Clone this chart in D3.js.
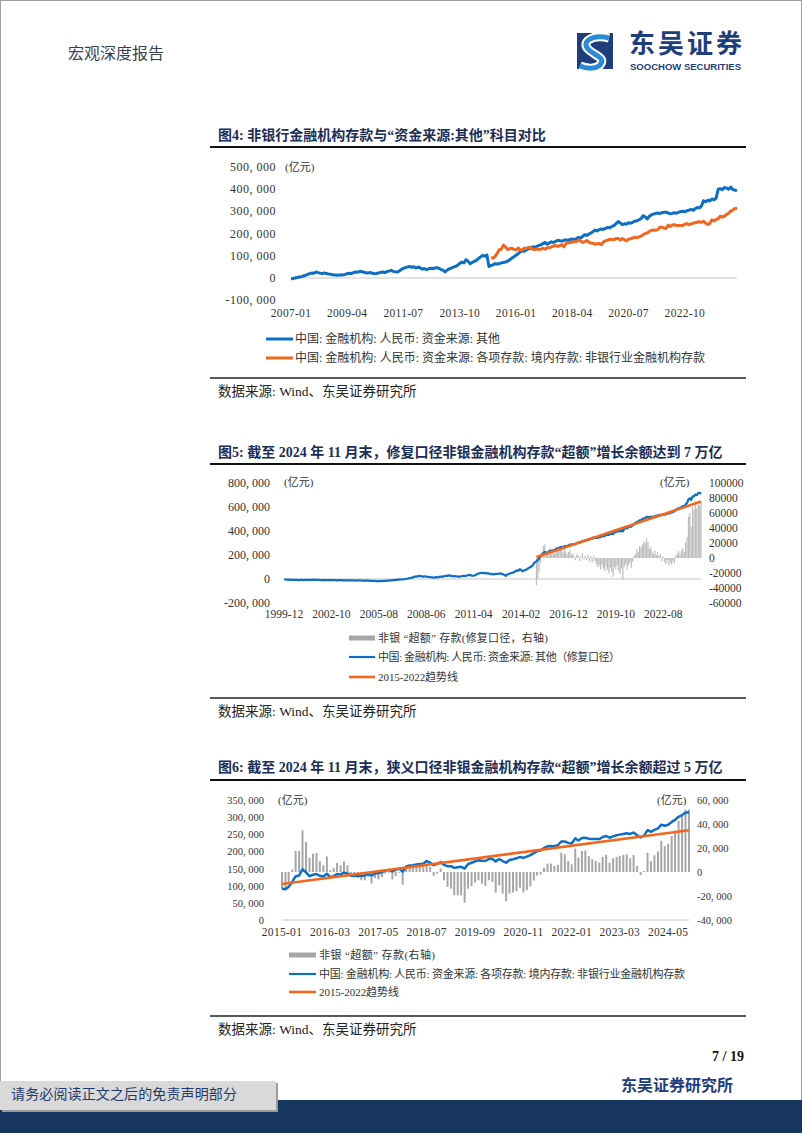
<!DOCTYPE html>
<html><head><meta charset="utf-8">
<script src="https://cdn.jsdelivr.net/npm/d3@7"></script>
<style>html,body{margin:0;padding:0;background:#fff;}svg{display:block;}</style>
</head><body>
<svg id="page" width="802" height="1133"></svg>
<script>
// ---------------- DATA ----------------
// Chart 1 (图4): 中国:金融机构:人民币:资金来源:其他, monthly from 2007-01 (亿元)
const c1Start = "2007-01";
const c1Other = [
-3000,-2000,0,2000,4500,6000,9000,12000,16000,19500,22000,21000,
27000,24000,22000,19500,23000,20000,18000,17000,15000,14000,12000,13000,
15000,14000,16000,19500,21000,20000,24000,27000,26000,30000,28000,26000,
24000,22000,25000,21000,20000,19500,23000,25000,27000,24000,29000,31000,
34500,30000,28000,27000,31000,38000,44000,47000,50000,52000,48000,51000,
45000,49500,46000,40000,43000,37500,41000,44000,42000,45000,46500,44000,
38000,35000,27000,36000,41000,45000,49500,52000,58000,65000,72000,68000,
82500,75000,64500,70000,75000,79500,88000,95000,102000,98000,104000,52000,
56000,60000,64500,63000,65000,68000,70000,72000,76000,82000,90000,95000,
103000,109000,118000,123000,120000,127000,132000,135000,141000,138000,143000,147000,
150000,156000,160000,152000,158000,163000,160000,165000,170000,168000,166000,170000,
172000,169000,174000,176000,173000,178000,183000,180000,188000,195000,192000,198000,
203000,210000,216000,212000,218000,221000,219000,224000,228000,226000,232000,236000,
245000,254000,248000,240000,244000,243000,249000,247000,251000,256000,258000,262000,
268000,281000,275000,266000,278000,285000,288000,291000,293000,290000,294000,296000,
296000,293000,289000,291000,294000,292000,296000,299000,301000,298000,303000,306000,
309000,305000,312000,318000,315000,325000,348000,343000,350000,347000,356000,352000,
360000,400000,402000,398000,408000,405000,400000,410000,398000,396000,392000
];
// 各项存款:境内存款:非银行业金融机构存款, monthly from 2015-01 (亿元) — chart 1 orange & chart 3 blue
const nbfiStart = "2015-01";
const nbfiDeposits = [
91000,90000,97000,111000,127000,130000,148000,139000,128000,132000,134000,129000,
127000,135000,125000,128000,134000,133000,138000,136000,129000,128000,130000,128000,
130000,134000,130000,136000,136000,140000,144000,146000,142000,146000,150000,141000,
156000,159000,160000,162000,163000,164000,172000,167000,160000,164000,169000,161000,
157000,157000,152000,154000,155000,150000,163000,167000,171000,174000,173000,172000,
178000,178000,171000,178000,172000,167000,175000,177000,180000,184000,181000,185000,
189000,195000,201000,203000,210000,215000,216000,215000,218000,229000,229000,225000,
223000,238000,232000,239000,240000,237000,236000,236000,236000,242000,245000,240000,
244000,247000,249000,251000,253000,251000,255000,247000,241000,246000,262000,257000,
263000,267000,278000,275000,278000,286000,292000,301000,306000,313000,314000
];
// Chart 2 (图5): 资金来源:其他(修复口径), monthly from 1999-12 (亿元)
const c2Start = "1999-12";
const c2OtherFixed = [
-2000,
-4000,-5000,-6000,-7000,-6000,-7000,-8000,-7000,-8000,-9000,-8000,-7000,
-8000,-9000,-8000,-7000,-8000,-9000,-8000,-7000,-6000,-7000,-8000,-7000,
-8000,-9000,-10000,-9000,-8000,-9000,-10000,-9000,-8000,-9000,-10000,-9000,
-10000,-11000,-10000,-9000,-10000,-11000,-12000,-11000,-10000,-11000,-12000,-11000,
-12000,-11000,-12000,-13000,-12000,-11000,-12000,-13000,-14000,-13000,-12000,-13000,
-14000,-15000,-16000,-15000,-16000,-17000,-18000,-17000,-16000,-17000,-16000,-15000,
-16000,-14000,-13000,-12000,-11000,-10000,-9000,-8000,-7000,-5000,-3000,-4000,
-3000,-2000,0,2000,4500,6000,9000,12000,16000,19500,22000,21000,
27000,24000,22000,19500,23000,20000,18000,17000,15000,14000,12000,13000,
15000,14000,16000,19500,21000,20000,24000,27000,26000,30000,28000,26000,
24000,22000,25000,21000,20000,19500,23000,25000,27000,24000,29000,31000,
34500,30000,28000,27000,31000,38000,44000,47000,50000,52000,48000,51000,
45000,49500,46000,40000,43000,37500,41000,44000,42000,45000,46500,44000,
38000,35000,27000,36000,41000,45000,49500,52000,58000,65000,72000,68000,
82500,75000,64500,70000,75000,79500,88000,95000,102000,110000,127000,140000,
147000,159000,173000,189000,204000,219000,225000,219000,220000,229000,235000,234000,
240000,240000,250000,256000,255000,265000,265000,264000,273000,274000,274000,281000,
287000,285000,291000,291000,290000,302000,303000,300000,310000,318000,314000,323000,
321000,332000,327000,338000,334000,347000,343000,343000,343000,349000,348000,358000,
357000,358000,368000,367000,367000,377000,376000,373000,390000,391000,400000,397000,
397000,408000,397000,418000,425000,422000,431000,439000,436000,448000,460000,467000,
477000,477000,489000,490000,498000,506000,508000,518000,517000,512000,519000,517000,
518000,526000,523000,531000,530000,536000,531000,541000,537000,539000,548000,545000,
553000,553000,562000,563000,577000,584000,591000,590000,600000,607000,606000,622000,
633000,664000,673000,659000,689000,689000,705000,699000,716000,719000,710000
];
// 非银"超额"存款(修复口径, 右轴), monthly from 2015-01
const c2ExcessStart = "2015-01";
const c2Excess = [
-36000,-28000,-18000,-6000,5000,16000,18000,9000,6000,11000,13000,8000,
10000,6000,12000,14000,9000,15000,11000,7000,12000,9000,5000,8000,
10000,4000,6000,2000,-3000,5000,3000,-4000,2000,6000,-2000,3000,
-3000,4000,-5000,2000,-6000,3000,-4000,-8000,-12000,-10000,-15000,-9000,
-14000,-17000,-11000,-16000,-20000,-13000,-18000,-25000,-12000,-15000,-10000,-17000,
-21000,-14000,-29000,-12000,-8000,-15000,-10000,-6000,-13000,-5000,3000,6000,
12000,8000,16000,14000,18000,22000,20000,26000,21000,12000,15000,9000,
6000,10000,4000,8000,3000,5000,-4000,2000,-6000,-8000,-3000,-10000,
-6000,-9000,-4000,-7000,3000,6000,9000,4000,10000,13000,8000,20000,
28000,55000,60000,42000,68000,64000,76000,66000,72000,70000,74000
];
const c2TrendDates = ["2015-01", "2024-11"];
const c2TrendValues = [183000, 645000];
// Chart 3 (图6): 非银"超额"存款(右轴), monthly from 2015-01
const c3ExcessStart = "2015-01";
const c3Excess = [
-14000,-14000,-10000,2000,17500,17500,34700,25000,11700,15300,15800,8900,
5600,13000,1400,3300,7500,5600,8900,5600,-2800,-4200,-5000,-6900,
-6900,-4200,-9700,-5000,-6100,-4200,-1400,-600,-6100,-3300,-600,-10600,
2800,4200,4200,4700,4200,4700,5600,4200,-3300,-1400,3000,-6900,
-12500,-13900,-19400,-19400,-19400,-25500,-13900,-11700,-8900,-6900,-9700,-11700,
-6900,-8300,-17200,-11100,-18000,-24400,-18000,-17000,-16000,-13000,-17000,-15000,
-12000,-7000,-3000,-2000,3600,7000,7000,5000,6000,16000,14700,9200,
6400,19400,12000,17500,18000,13300,10600,9200,7800,12500,14200,7800,
11400,12500,13300,14200,14700,11400,14200,5000,-2500,800,16000,9000,
14000,17000,26000,21500,23500,30000,34700,42500,46600,52000,52000
];
const c3TrendDates = ["2015-01", "2024-11"];
const c3TrendValues = [105000, 262000];

// tick labels
const c1YTicks = [-100000, 0, 100000, 200000, 300000, 400000, 500000];
const c1XTicks = ["2007-01","2009-04","2011-07","2013-10","2016-01","2018-04","2020-07","2022-10"];
const c2YTicksL = [-200000, 0, 200000, 400000, 600000, 800000];
const c2YTicksR = [-60000, -40000, -20000, 0, 20000, 40000, 60000, 80000, 100000];
const c2XTicks = ["1999-12","2002-10","2005-08","2008-06","2011-04","2014-02","2016-12","2019-10","2022-08"];
const c3YTicksL = [0, 50000, 100000, 150000, 200000, 250000, 300000, 350000];
const c3YTicksR = [-40000, -20000, 0, 20000, 40000, 60000];
const c3XTicks = ["2015-01","2016-03","2017-05","2018-07","2019-09","2020-11","2022-01","2023-03","2024-05"];

// texts
const c1Title = "图4: 非银行金融机构存款与“资金来源:其他”科目对比";
const c1Legend = ["中国: 金融机构: 人民币: 资金来源: 其他", "中国: 金融机构: 人民币: 资金来源: 各项存款: 境内存款: 非银行业金融机构存款"];
const c2Title = "图5: 截至 2024 年 11 月末，修复口径非银金融机构存款“超额”增长余额达到 7 万亿";
const c2Legend = ["非银 “超额” 存款(修复口径，右轴)", "中国: 金融机构: 人民币: 资金来源: 其他（修复口径）", "2015-2022趋势线"];
const c3Title = "图6: 截至 2024 年 11 月末，狭义口径非银金融机构存款“超额”增长余额超过 5 万亿";
const c3Legend = ["非银 “超额” 存款(右轴)", "中国: 金融机构: 人民币: 资金来源: 各项存款: 境内存款: 非银行业金融机构存款", "2015-2022趋势线"];
const sourceText = "数据来源: Wind、东吴证券研究所";

// ---------------- DRAWING ----------------
const SERIF = "'Liberation Serif','Noto Sans CJK SC',serif";
const CJK = "'Noto Sans CJK SC',sans-serif";
const BLUE = "#0c6fc4", ORANGE = "#f2671f", NAVY = "#1e3d7b", TITLE = "#1a2d57", LABEL = "#333";
const parseMonth = d3.utcParse("%Y-%m");
const loc = d3.formatLocale({decimal: ".", thousands: ",", grouping: [3], currency: ["", ""], minus: "-"});
const fmtComma = v => loc.format(",")(v).replace(/,/g, ", ");
const fmtPlain = v => loc.format("d")(v);
const monthly = (start, vals) => vals.map((v, i) => ({date: d3.utcMonth.offset(parseMonth(start), i), v}));

const page = d3.select("#page");
page.append("rect").attr("x", 0.5).attr("y", 0.5).attr("width", 801).attr("height", 1132)
  .attr("fill", "#fff").attr("stroke", "#a0a0a0");

function txt(g, x, y, s, o = {}) {
  const t = g.append("text").attr("x", x).attr("y", y).text(s)
    .attr("font-family", o.family || SERIF).attr("font-size", o.size || 12)
    .attr("fill", o.fill || LABEL);
  if (o.anchor) t.attr("text-anchor", o.anchor);
  if (o.weight) t.attr("font-weight", o.weight);
  if (o.ls) t.attr("letter-spacing", o.ls);
  if (o.len) t.attr("textLength", o.len).attr("lengthAdjust", "spacing");
  return t;
}
function hline(g, x1, x2, y, w, c) {
  g.append("line").attr("x1", x1).attr("x2", x2).attr("y1", y).attr("y2", y)
    .attr("stroke", c).attr("stroke-width", w);
}
function frame(g, titleY, lineY, srcLineY, srcY, title) {
  txt(g, 218, titleY, title, {size: 14, weight: "bold", fill: TITLE});
  hline(g, 210, 746, lineY, 2, "#111");
  hline(g, 210, 746, srcLineY, 1.3, "#222");
  txt(g, 218, srcY, sourceText, {size: 13.5, fill: "#222"});
}

// ---- header ----
const head = page.append("g");
txt(head, 68, 59, "宏观深度报告", {family: CJK, size: 16, fill: "#3a3f55"});
head.append("rect").attr("x", 577).attr("y", 33).attr("width", 36).attr("height", 36).attr("fill", NAVY);
const sPath = "M609,38 C592,34 580,42 589,50 C596,56 606,58 600,65 C596,69 587,69 580,66";
head.append("path").attr("d", sPath).attr("fill", "none").attr("stroke", "#fff").attr("stroke-width", 9);
head.append("path").attr("d", sPath).attr("fill", "none").attr("stroke", "#2a8ad6").attr("stroke-width", 5);
txt(head, 629, 53, "东吴证券", {family: CJK, size: 26, weight: "bold", fill: NAVY, len: 113});
txt(head, 630, 70, "SOOCHOW SECURITIES", {family: "'Liberation Sans',sans-serif", size: 9.5, weight: "bold", fill: NAVY, len: 111});

// ---- Chart 1 ----
{
  const g = page.append("g");
  frame(g, 140, 147, 378, 396, c1Title);
  const x = d3.scaleUtc().domain([parseMonth("2007-01"), parseMonth("2024-11")]).range([291, 737]);
  const y = d3.scaleLinear().domain([-100000, 500000]).range([300.2, 167]);
  c1YTicks.forEach(v => txt(g, 276, y(v) + 4, fmtComma(v), {anchor: "end", size: 12, ls: 0.5}));
  c1XTicks.forEach(d => txt(g, x(parseMonth(d)), 317, d, {anchor: "middle", size: 11.5, ls: 0.3}));
  txt(g, 285, 171, "(亿元)", {size: 11});
  hline(g, x.range()[0], x.range()[1], y(0), 1.5, "#d9d9d9");
  const line = d3.line().x(d => x(d.date)).y(d => y(d.v));
  g.append("path").datum(monthly(c1Start, c1Other)).attr("d", line)
    .attr("fill", "none").attr("stroke", BLUE).attr("stroke-width", 3).attr("stroke-linejoin", "round");
  g.append("path").datum(monthly(nbfiStart, nbfiDeposits)).attr("d", line)
    .attr("fill", "none").attr("stroke", ORANGE).attr("stroke-width", 3).attr("stroke-linejoin", "round");
  // legend
  hline(g, 266, 293, 339, 3, BLUE);
  txt(g, 295, 343, c1Legend[0], {size: 12, len: 205});
  hline(g, 266, 293, 358, 3, ORANGE);
  txt(g, 295, 362, c1Legend[1], {size: 12, len: 410});
}

// ---- Chart 2 ----
{
  const g = page.append("g");
  frame(g, 457, 464, 698, 716, c2Title);
  const x = d3.scaleUtc().domain([parseMonth("1999-12"), parseMonth("2024-11")]).range([284, 701]);
  const yL = d3.scaleLinear().domain([-200000, 800000]).range([603, 483]);
  const yR = d3.scaleLinear().domain([-60000, 100000]).range([603, 483]);
  c2YTicksL.forEach(v => txt(g, 270, yL(v) + 4, fmtComma(v), {anchor: "end", size: 12}));
  c2YTicksR.forEach(v => txt(g, 709, yR(v) + 4, fmtPlain(v), {size: 11.5}));
  c2XTicks.forEach(d => txt(g, x(parseMonth(d)), 618, d, {anchor: "middle", size: 11.5}));
  txt(g, 284, 486, "(亿元)", {size: 11});
  txt(g, 660, 486, "(亿元)", {size: 11});
  hline(g, 284, 701, yL(0), 1.5, "#d9d9d9");
  g.append("g").selectAll("rect").data(monthly(c2ExcessStart, c2Excess)).join("rect")
    .attr("x", d => x(d.date) - 0.6).attr("width", 1.2)
    .attr("y", d => Math.min(yR(d.v), yR(0))).attr("height", d => Math.abs(yR(d.v) - yR(0)))
    .attr("fill", "#bcbcbc");
  const lineL = d3.line().x(d => x(d.date)).y(d => yL(d.v));
  g.append("path").datum(monthly(c2Start, c2OtherFixed)).attr("d", lineL)
    .attr("fill", "none").attr("stroke", BLUE).attr("stroke-width", 2.2).attr("stroke-linejoin", "round");
  const trend = c2TrendDates.map((d, i) => ({date: parseMonth(d), v: c2TrendValues[i]}));
  g.append("path").datum(trend).attr("d", lineL)
    .attr("fill", "none").attr("stroke", ORANGE).attr("stroke-width", 2.6);
  // legend
  g.append("rect").attr("x", 349).attr("y", 635.5).attr("width", 26).attr("height", 5).attr("fill", "#a6a6a6");
  txt(g, 378, 642, c2Legend[0], {size: 11, len: 170});
  hline(g, 349, 375, 657, 2.2, BLUE);
  txt(g, 378, 661, c2Legend[1], {size: 11, len: 242});
  hline(g, 349, 375, 677, 2.6, ORANGE);
  txt(g, 378, 681, c2Legend[2], {size: 11, len: 80});
}

// ---- Chart 3 ----
{
  const g = page.append("g");
  frame(g, 772, 780, 1016, 1034, c3Title);
  const x = d3.scaleUtc().domain([parseMonth("2015-01"), parseMonth("2024-11")]).range([282, 689]);
  const yL = d3.scaleLinear().domain([0, 350000]).range([920, 800]);
  const yR = d3.scaleLinear().domain([-40000, 60000]).range([920, 800]);
  c3YTicksL.forEach(v => txt(g, 264, yL(v) + 4, fmtComma(v), {anchor: "end", size: 10.5}));
  c3YTicksR.forEach(v => txt(g, 697, yR(v) + 4, fmtComma(v), {size: 10.5}));
  c3XTicks.forEach(d => txt(g, x(parseMonth(d)), 936, d, {anchor: "middle", size: 11.5, ls: 0.3}));
  txt(g, 278, 804, "(亿元)", {size: 11});
  txt(g, 657, 804, "(亿元)", {size: 11});
  hline(g, 282, 689, yL(0), 1.5, "#d9d9d9");
  g.append("g").selectAll("rect").data(monthly(c3ExcessStart, c3Excess)).join("rect")
    .attr("x", d => x(d.date) - 1).attr("width", 2)
    .attr("y", d => Math.min(yR(d.v), yR(0))).attr("height", d => Math.abs(yR(d.v) - yR(0)))
    .attr("fill", "#a6a6a6");
  const lineL = d3.line().x(d => x(d.date)).y(d => yL(d.v));
  g.append("path").datum(monthly(nbfiStart, nbfiDeposits)).attr("d", lineL)
    .attr("fill", "none").attr("stroke", BLUE).attr("stroke-width", 2.5).attr("stroke-linejoin", "round");
  const trend = c3TrendDates.map((d, i) => ({date: parseMonth(d), v: c3TrendValues[i]}));
  g.append("path").datum(trend).attr("d", lineL)
    .attr("fill", "none").attr("stroke", ORANGE).attr("stroke-width", 2.6);
  // legend
  g.append("rect").attr("x", 289).attr("y", 952.5).attr("width", 27).attr("height", 5).attr("fill", "#a6a6a6");
  txt(g, 319, 959, c3Legend[0], {size: 11, len: 116});
  hline(g, 289, 316, 974, 2.2, BLUE);
  txt(g, 319, 978, c3Legend[1], {size: 11, len: 366});
  hline(g, 289, 316, 992, 2.6, ORANGE);
  txt(g, 319, 996, c3Legend[2], {size: 11, len: 80});
}

// ---- footer ----
{
  const g = page.append("g");
  txt(g, 744, 1061, "7 / 19", {anchor: "end", size: 14, weight: "bold", fill: "#111"});
  txt(g, 621, 1091, "东吴证券研究所", {family: CJK, size: 16, weight: "bold", fill: NAVY, len: 112});
  g.append("rect").attr("x", 0).attr("y", 1100).attr("width", 802).attr("height", 33).attr("fill", "#17365f");
  g.append("rect").attr("x", 2).attr("y", 1083).attr("width", 276).attr("height", 29).attr("fill", "#9a9a9a");
  g.append("rect").attr("x", 0).attr("y", 1081).attr("width", 276).attr("height", 29).attr("fill", "#d9d9d9");
  txt(g, 11, 1099, "请务必阅读正文之后的免责声明部分", {family: CJK, size: 14, fill: "#1f3a6a", len: 226});
}
</script>
</body></html>
